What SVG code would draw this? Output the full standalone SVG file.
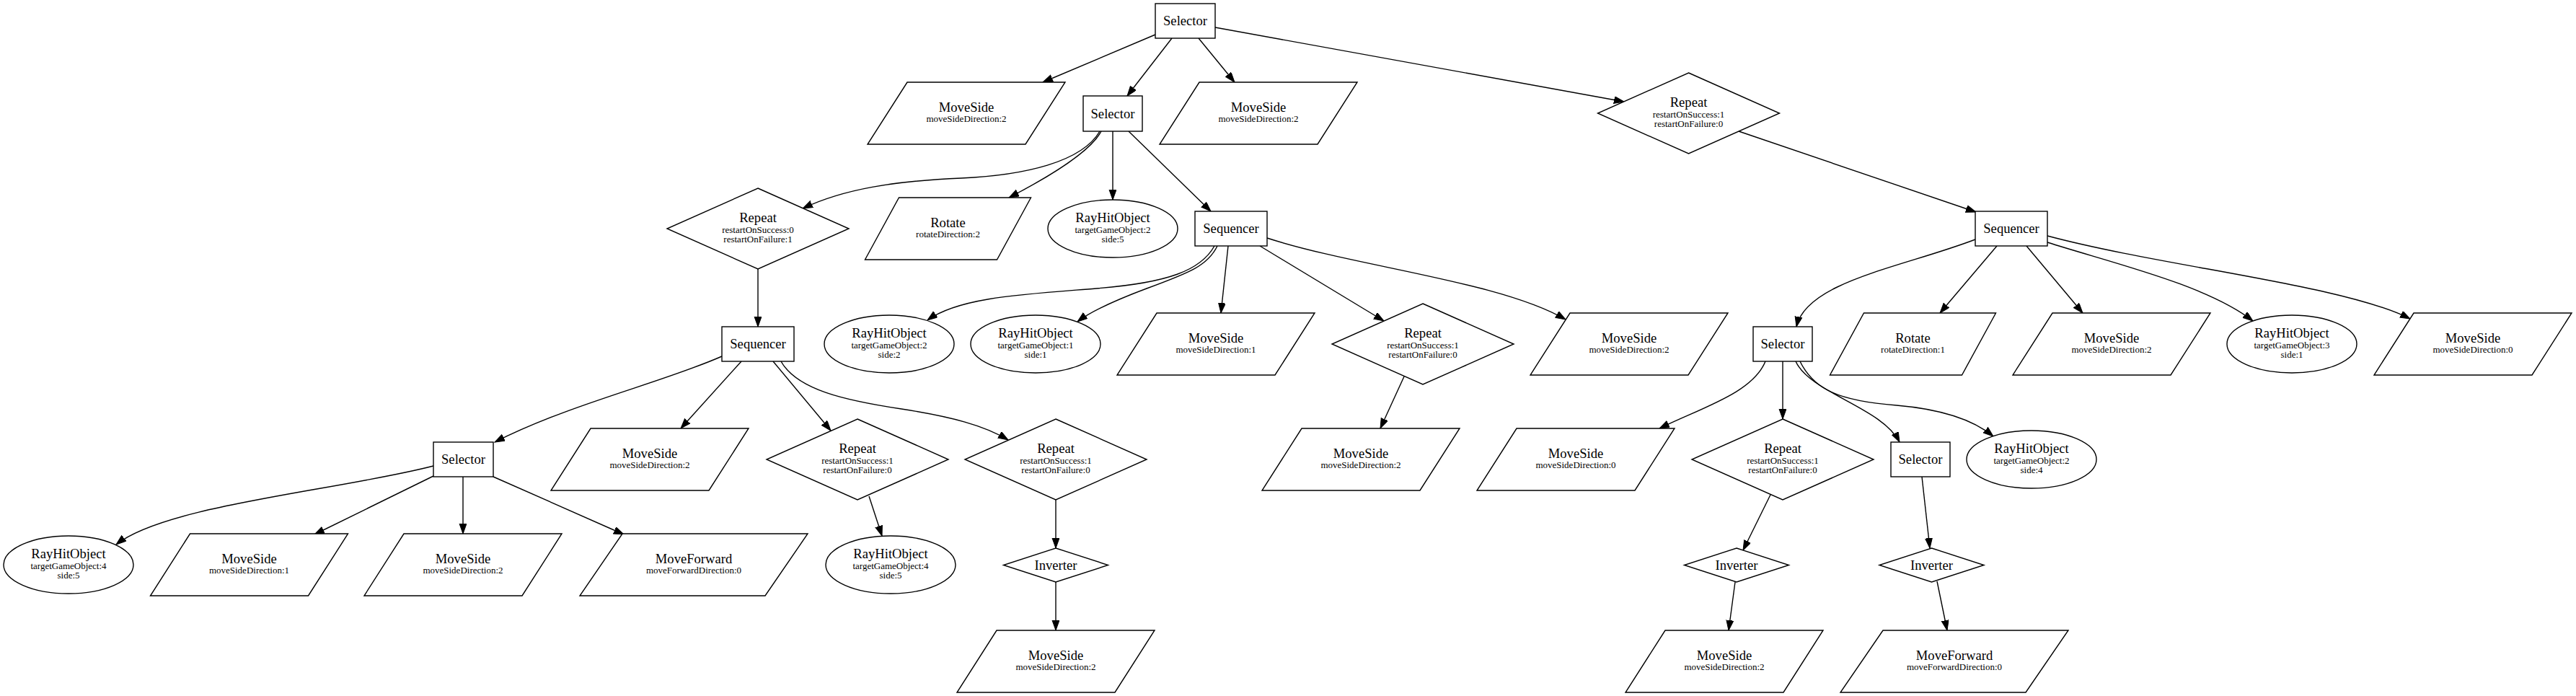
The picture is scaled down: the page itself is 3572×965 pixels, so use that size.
<svg xmlns="http://www.w3.org/2000/svg" xmlns:xlink="http://www.w3.org/1999/xlink" width="3572" height="965" viewBox="0 0 3572 965">
<style>
.sh{fill:#fff;stroke:#000;stroke-width:1.4}
.t{font-family:"Liberation Serif","Times New Roman",serif;font-size:18.6px;text-anchor:middle;fill:#000}
.s{font-family:"Liberation Serif","Times New Roman",serif;font-size:13px;text-anchor:middle;fill:#000}
.e{fill:none;stroke:#000;stroke-width:1.4;marker-end:url(#arr)}
</style>
<defs>
<marker id="arr" markerUnits="userSpaceOnUse" markerWidth="15" markerHeight="11" refX="14" refY="5" orient="auto"><path d="M0,0 L14,5 L0,10 z" fill="#000" stroke="#000" stroke-width="1"/></marker>
<polygon id="pMS" points="-82,-43 137,-43 82,43 -137,43"/>
<polygon id="pRot" points="-68,-43 115,-43 68,43 -115,43"/>
<polygon id="pMF" points="-99,-43 158,-43 99,43 -158,43"/>
<polygon id="dRep" points="0,-56 126,0 0,56 -126,0"/>
<polygon id="dInv" points="0,-23.5 72.5,0 0,23.5 -72.5,0"/>
<ellipse id="eRay" cx="0" cy="0" rx="90" ry="40"/>
</defs>
<rect width="3572" height="965" fill="#fff"/>
<g id="edges">
<path class="e" d="M1602,48 L1446,114"/>
<path class="e" d="M1625,53 L1563,133"/>
<path class="e" d="M1662,53 L1712,114"/>
<path class="e" d="M1685,38 L2252,141"/>
<path class="e" d="M1525,182 C1500,225 1420,243 1333,247 C1240,251 1170,262 1113,289"/>
<path class="e" d="M1527,182 C1512,210 1455,245 1399,274"/>
<path class="e" d="M1543,182 L1543,277"/>
<path class="e" d="M1565,182 L1679,293"/>
<path class="e" d="M2411,182 L2740,294"/>
<path class="e" d="M1051,373 L1051,453"/>
<path class="e" d="M1684,341 C1665,375 1620,392 1520,400 C1420,408 1330,412 1286,444"/>
<path class="e" d="M1688,341 C1675,368 1650,378 1590,400 C1550,415 1515,430 1494,446"/>
<path class="e" d="M1703,341 L1693,434"/>
<path class="e" d="M1747,341 L1919,445"/>
<path class="e" d="M1757,330 C1880,370 2080,390 2171,443"/>
<path class="e" d="M1001,494 C920,530 790,560 686,613"/>
<path class="e" d="M1028,501 L944,594"/>
<path class="e" d="M1072,501 L1152,597"/>
<path class="e" d="M1083,501 C1105,540 1170,555 1250,567 C1320,578 1365,590 1398,610"/>
<path class="e" d="M601,646 C470,680 230,700 161,755"/>
<path class="e" d="M601,660 L436,741"/>
<path class="e" d="M642,661 L642,740"/>
<path class="e" d="M684,661 L865,741"/>
<path class="e" d="M1205,688 L1223,743"/>
<path class="e" d="M1464,693 L1464,760"/>
<path class="e" d="M1464,807 L1464,874"/>
<path class="e" d="M1947,522 L1914,594"/>
<path class="e" d="M2739,332 C2640,370 2505,390 2491,453"/>
<path class="e" d="M2769,341 L2690,434"/>
<path class="e" d="M2810,341 L2888,434"/>
<path class="e" d="M2839,336 C2930,365 3060,395 3124,445"/>
<path class="e" d="M2839,327 C3000,370 3250,395 3342,442"/>
<path class="e" d="M2448,501 C2430,545 2360,565 2301,594"/>
<path class="e" d="M2472,501 L2472,581"/>
<path class="e" d="M2490,501 C2510,545 2610,565 2634,613"/>
<path class="e" d="M2496,501 C2515,540 2550,556 2630,562 C2700,568 2740,585 2764,605"/>
<path class="e" d="M2455,686 L2417,763"/>
<path class="e" d="M2406,807 L2397,874"/>
<path class="e" d="M2665,661 L2676,760"/>
<path class="e" d="M2686,806 L2700,874"/>
</g>
<g id="root"><rect class="sh" x="1602" y="5" width="83" height="48"/><text class="t" x="1643.5" y="35">Selector</text></g>
<g id="ms_a"><use xlink:href="#pMS" href="#pMS" class="sh" transform="translate(1340,157)"/><text class="t" x="1340" y="155">MoveSide</text><text class="s" x="1340" y="168.5">moveSideDirection:2</text></g>
<g id="sel2"><rect class="sh" x="1502" y="133" width="82" height="49"/><text class="t" x="1543" y="163.5">Selector</text></g>
<g id="ms_b"><use href="#pMS" class="sh" transform="translate(1745,157)"/><text class="t" x="1745" y="155">MoveSide</text><text class="s" x="1745" y="168.5">moveSideDirection:2</text></g>
<g id="rep_r"><use href="#dRep" class="sh" transform="translate(2341.5,157)"/><text class="t" x="2341.5" y="148">Repeat</text><text class="s" x="2341.5" y="163">restartOnSuccess:1</text><text class="s" x="2341.5" y="175.5">restartOnFailure:0</text></g>
<g id="rep_l"><use href="#dRep" class="sh" transform="translate(1051,317)"/><text class="t" x="1051" y="308">Repeat</text><text class="s" x="1051" y="323">restartOnSuccess:0</text><text class="s" x="1051" y="335.5">restartOnFailure:1</text></g>
<g id="rot_a"><use href="#pRot" class="sh" transform="translate(1314.5,317)"/><text class="t" x="1314.5" y="315">Rotate</text><text class="s" x="1314.5" y="328.5">rotateDirection:2</text></g>
<g id="ray_a"><use href="#eRay" class="sh" transform="translate(1543,317)"/><text class="t" x="1543" y="308">RayHitObject</text><text class="s" x="1543" y="323">targetGameObject:2</text><text class="s" x="1543" y="335.5">side:5</text></g>
<g id="seq_m"><rect class="sh" x="1657" y="293" width="100" height="48"/><text class="t" x="1707" y="323">Sequencer</text></g>
<g id="seq_r"><rect class="sh" x="2739" y="293" width="100" height="48"/><text class="t" x="2789" y="323">Sequencer</text></g>
<g id="seq_l"><rect class="sh" x="1001" y="453" width="100" height="48"/><text class="t" x="1051" y="483">Sequencer</text></g>
<g id="ray_b"><use href="#eRay" class="sh" transform="translate(1233,477)"/><text class="t" x="1233" y="468">RayHitObject</text><text class="s" x="1233" y="483">targetGameObject:2</text><text class="s" x="1233" y="495.5">side:2</text></g>
<g id="ray_c"><use href="#eRay" class="sh" transform="translate(1436,477)"/><text class="t" x="1436" y="468">RayHitObject</text><text class="s" x="1436" y="483">targetGameObject:1</text><text class="s" x="1436" y="495.5">side:1</text></g>
<g id="ms_c"><use href="#pMS" class="sh" transform="translate(1686,477)"/><text class="t" x="1686" y="475">MoveSide</text><text class="s" x="1686" y="488.5">moveSideDirection:1</text></g>
<g id="rep_m"><use href="#dRep" class="sh" transform="translate(1973,477)"/><text class="t" x="1973" y="468">Repeat</text><text class="s" x="1973" y="483">restartOnSuccess:1</text><text class="s" x="1973" y="495.5">restartOnFailure:0</text></g>
<g id="ms_d"><use href="#pMS" class="sh" transform="translate(2259,477)"/><text class="t" x="2259" y="475">MoveSide</text><text class="s" x="2259" y="488.5">moveSideDirection:2</text></g>
<g id="sel_r"><rect class="sh" x="2431" y="453" width="82" height="48"/><text class="t" x="2472" y="483">Selector</text></g>
<g id="rot_b"><use href="#pRot" class="sh" transform="translate(2652.5,477)"/><text class="t" x="2652.5" y="475">Rotate</text><text class="s" x="2652.5" y="488.5">rotateDirection:1</text></g>
<g id="ms_h"><use href="#pMS" class="sh" transform="translate(2928,477)"/><text class="t" x="2928" y="475">MoveSide</text><text class="s" x="2928" y="488.5">moveSideDirection:2</text></g>
<g id="ray_f"><use href="#eRay" class="sh" transform="translate(3178,477)"/><text class="t" x="3178" y="468">RayHitObject</text><text class="s" x="3178" y="483">targetGameObject:3</text><text class="s" x="3178" y="495.5">side:1</text></g>
<g id="ms_i"><use href="#pMS" class="sh" transform="translate(3429,477)"/><text class="t" x="3429" y="475">MoveSide</text><text class="s" x="3429" y="488.5">moveSideDirection:0</text></g>
<g id="sel_l"><rect class="sh" x="601" y="613" width="83" height="48"/><text class="t" x="642.5" y="643">Selector</text></g>
<g id="ms_e"><use href="#pMS" class="sh" transform="translate(901,637)"/><text class="t" x="901" y="635">MoveSide</text><text class="s" x="901" y="648.5">moveSideDirection:2</text></g>
<g id="rep_a"><use href="#dRep" class="sh" transform="translate(1189,637)"/><text class="t" x="1189" y="628">Repeat</text><text class="s" x="1189" y="643">restartOnSuccess:1</text><text class="s" x="1189" y="655.5">restartOnFailure:0</text></g>
<g id="rep_b"><use href="#dRep" class="sh" transform="translate(1464,637)"/><text class="t" x="1464" y="628">Repeat</text><text class="s" x="1464" y="643">restartOnSuccess:1</text><text class="s" x="1464" y="655.5">restartOnFailure:0</text></g>
<g id="ms_f"><use href="#pMS" class="sh" transform="translate(1887,637)"/><text class="t" x="1887" y="635">MoveSide</text><text class="s" x="1887" y="648.5">moveSideDirection:2</text></g>
<g id="ms_j"><use href="#pMS" class="sh" transform="translate(2185,637)"/><text class="t" x="2185" y="635">MoveSide</text><text class="s" x="2185" y="648.5">moveSideDirection:0</text></g>
<g id="rep_c"><use href="#dRep" class="sh" transform="translate(2472,637)"/><text class="t" x="2472" y="628">Repeat</text><text class="s" x="2472" y="643">restartOnSuccess:1</text><text class="s" x="2472" y="655.5">restartOnFailure:0</text></g>
<g id="sel_s"><rect class="sh" x="2622" y="613" width="82" height="48"/><text class="t" x="2663" y="643">Selector</text></g>
<g id="ray_g"><use href="#eRay" class="sh" transform="translate(2817,637)"/><text class="t" x="2817" y="628">RayHitObject</text><text class="s" x="2817" y="643">targetGameObject:2</text><text class="s" x="2817" y="655.5">side:4</text></g>
<g id="ray_d"><use href="#eRay" class="sh" transform="translate(95,783)"/><text class="t" x="95" y="774">RayHitObject</text><text class="s" x="95" y="789">targetGameObject:4</text><text class="s" x="95" y="801.5">side:5</text></g>
<g id="ms_1"><use href="#pMS" class="sh" transform="translate(345.5,783)"/><text class="t" x="345.5" y="781">MoveSide</text><text class="s" x="345.5" y="794.5">moveSideDirection:1</text></g>
<g id="ms_2"><use href="#pMS" class="sh" transform="translate(642,783)"/><text class="t" x="642" y="781">MoveSide</text><text class="s" x="642" y="794.5">moveSideDirection:2</text></g>
<g id="mf_a"><use href="#pMF" class="sh" transform="translate(962,783)"/><text class="t" x="962" y="781">MoveForward</text><text class="s" x="962" y="794.5">moveForwardDirection:0</text></g>
<g id="ray_e"><use href="#eRay" class="sh" transform="translate(1235,783)"/><text class="t" x="1235" y="774">RayHitObject</text><text class="s" x="1235" y="789">targetGameObject:4</text><text class="s" x="1235" y="801.5">side:5</text></g>
<g id="inv"><use href="#dInv" class="sh" transform="translate(1464,783.5)"/><text class="t" x="1464" y="789.5">Inverter</text></g>
<g id="inv_a"><use href="#dInv" class="sh" transform="translate(2408,783.5)"/><text class="t" x="2408" y="789.5">Inverter</text></g>
<g id="inv_b"><use href="#dInv" class="sh" transform="translate(2678.5,783.5)"/><text class="t" x="2678.5" y="789.5">Inverter</text></g>
<g id="ms_g"><use href="#pMS" class="sh" transform="translate(1464,917)"/><text class="t" x="1464" y="915">MoveSide</text><text class="s" x="1464" y="928.5">moveSideDirection:2</text></g>
<g id="ms_k"><use href="#pMS" class="sh" transform="translate(2391,917)"/><text class="t" x="2391" y="915">MoveSide</text><text class="s" x="2391" y="928.5">moveSideDirection:2</text></g>
<g id="mf_b"><use href="#pMF" class="sh" transform="translate(2710,917)"/><text class="t" x="2710" y="915">MoveForward</text><text class="s" x="2710" y="928.5">moveForwardDirection:0</text></g>
</svg>
